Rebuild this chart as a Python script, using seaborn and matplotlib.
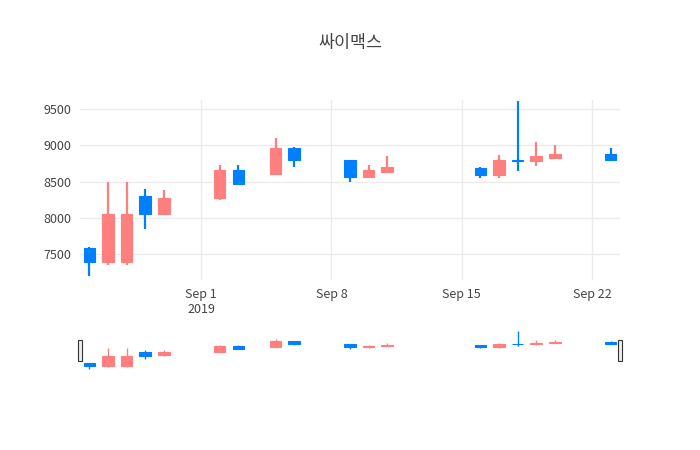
import numpy as np
import pandas as pd
import seaborn as sns
import matplotlib
matplotlib.use('Agg')
import matplotlib.pyplot as plt
import matplotlib.dates as mdates

dates = ['2019-08-26','2019-08-27','2019-08-28','2019-08-29','2019-08-30',
         '2019-09-02','2019-09-03','2019-09-05','2019-09-06','2019-09-09',
         '2019-09-10','2019-09-11','2019-09-16','2019-09-17','2019-09-18',
         '2019-09-19','2019-09-20','2019-09-23']
opens  = [7590,7400,7400,8300,8060,8270,8660,8610,8960,8800,8560,8630,8690,8590,8800,8780,8820,8880]
highs  = [7600,8500,8500,8400,8380,8730,8730,9100,8970,8800,8730,8850,8700,8860,9600,9050,9000,8960]
lows   = [7200,7350,7350,7850,8050,8250,8450,8600,8700,8490,8550,8620,8550,8550,8650,8720,8820,8790]
closes = [7400,8050,8050,8050,8280,8660,8470,8960,8790,8560,8660,8700,8590,8800,8780,8850,8880,8800]

df = pd.DataFrame({'date': pd.to_datetime(dates), 'open': opens, 'high': highs,
                   'low': lows, 'close': closes})
df['x'] = mdates.date2num(df['date'])
df['up'] = df['close'] >= df['open']

sns.set_style('white')
plt.rcParams['font.family'] = ['Noto Sans CJK KR', 'DejaVu Sans']

UP = '#FF7F7F'
DOWN = '#0080FF'
TXT = '#444444'

fig = plt.figure(figsize=(7, 4.5), dpi=100)
ax = fig.add_axes([80/700, 1-280/450, 540/700, 180/450])
rs = fig.add_axes([80/700, 1-370/450, 540/700, 40/450])

xmin = mdates.date2num(pd.Timestamp('2019-08-25 12:00'))
xmax = mdates.date2num(pd.Timestamp('2019-09-23 12:00'))

def candles(a, lw_wick):
    for _, r in df.iterrows():
        c = UP if r['up'] else DOWN
        lo, hi = sorted([r['open'], r['close']])
        a.vlines(r['x'], r['low'], r['high'], color=c, lw=lw_wick, zorder=3)
        a.bar(r['x'], max(hi - lo, 8), bottom=lo, width=0.62, color=c,
              edgecolor=c, lw=0.8, zorder=3)

candles(ax, 1.6)
ax.set_xlim(xmin, xmax)
ax.set_ylim(7150, 9620)
ax.set_yticks([7500, 8000, 8500, 9000, 9500])
ticks = pd.to_datetime(['2019-09-01', '2019-09-08', '2019-09-15', '2019-09-22'])
ax.set_xticks(mdates.date2num(ticks))
ax.set_xticklabels(['Sep 1\n2019', 'Sep 8', 'Sep 15', 'Sep 22'])
ax.grid(True, color='#ebebeb', lw=1)
ax.set_axisbelow(True)
for s in ax.spines.values():
    s.set_visible(False)
ax.tick_params(colors=TXT, labelsize=9, length=0, pad=6)
for l in ax.get_xticklabels() + ax.get_yticklabels():
    l.set_color(TXT)

candles(rs, 1.0)
rs.set_xlim(xmin, xmax)
rs.set_ylim(7150, 9650)
rs.set_xticks([])
rs.set_yticks([])
for s in rs.spines.values():
    s.set_visible(False)
for hx in (xmin, xmax):
    rs.add_patch(plt.Rectangle((hx - 0.12, 7710), 0.24, 1315, facecolor='#eeeeee',
                               edgecolor='#333333', lw=0.8, clip_on=False, zorder=5))

fig.text(0.5, 1-43/450, '싸이맥스', ha='center', va='center', fontsize=12.5, color=TXT)
fig.savefig('out.png', dpi=100, facecolor='white')
